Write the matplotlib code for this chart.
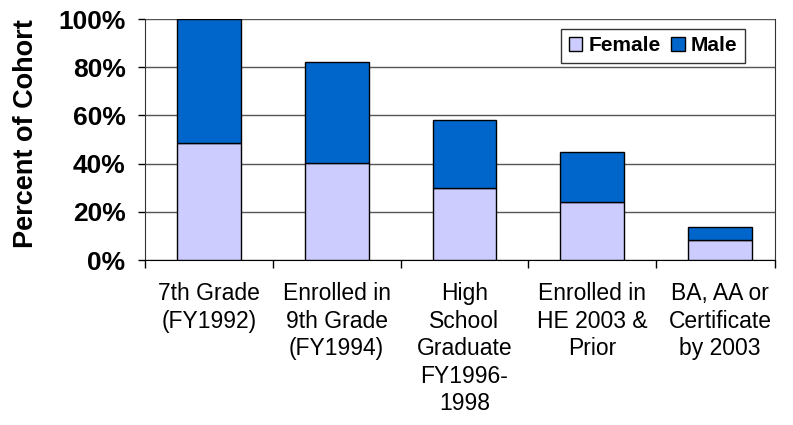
import matplotlib
matplotlib.use("Agg")
import matplotlib.pyplot as plt
import numpy as np
from matplotlib.ticker import FixedLocator, PercentFormatter

categories = ["7th Grade\n(FY1992)", "Enrolled in\n9th Grade\n(FY1994)",
              "High\nSchool\nGraduate\nFY1996-\n1998", "Enrolled in\nHE 2003 &\nPrior",
              "BA, AA or\nCertificate\nby 2003"]
female = [48.4, 40.4, 29.7, 23.9, 8.3]
male = [51.6, 41.9, 28.4, 21.0, 5.5]
series_names = ["Female", "Male"]
yticks = [0, 20, 40, 60, 80, 100]

plt.rcParams['font.family'] = ['Liberation Sans', 'DejaVu Sans']

fig = plt.figure(figsize=(7.93, 4.25), dpi=100)
ax = fig.add_axes([145/793, 1-260/425, (775-145)/793, 241/425])

x = np.arange(len(categories))
female_color = "#CCCCFF"
male_color = "#0066CC"
ax.bar(x, female, width=0.5, color=female_color, edgecolor="black", linewidth=1,
       label=series_names[0], zorder=3)
ax.bar(x, male, width=0.5, bottom=female, color=male_color, edgecolor="black",
       linewidth=1, label=series_names[1], zorder=3)

ax.set_ylim(0, 100)
ax.set_xlim(-0.5, 4.43)
ax.yaxis.set_major_locator(FixedLocator(yticks))
ax.yaxis.set_major_formatter(PercentFormatter(decimals=0))
ax.grid(axis='y', color='#555555', linewidth=1, zorder=0)

ax.xaxis.set_major_locator(FixedLocator([-0.5, 0.5, 1.5, 2.5, 3.5, 4.43]))
ax.xaxis.set_minor_locator(FixedLocator(x))
ax.set_xticklabels([""] * 6)
ax.set_xticklabels(categories, minor=True, fontsize=16.5, linespacing=1.25)
ax.tick_params(axis='x', which='major', length=6, width=1, color='black', direction='out')
ax.tick_params(axis='x', which='minor', length=0, pad=16)
ax.tick_params(axis='y', length=5, width=1, pad=9, labelsize=19)
for lab in ax.get_yticklabels():
    lab.set_fontweight('bold')

ax.spines['top'].set_visible(False)
ax.spines['right'].set_color('#333333')
ax.spines['left'].set_color('#333333')
ax.spines['bottom'].set_color('black')

ax.set_ylabel("Percent of Cohort", fontsize=19.5, fontweight='bold', va='center')
ax.yaxis.set_label_coords(-0.189, 0.523)

leg = ax.legend(ncol=2, loc='upper right', bbox_to_anchor=(0.952, 0.958),
                prop={'size': 15, 'weight': 'bold'}, frameon=True, fancybox=False,
                edgecolor='black', handlelength=0.65, handleheight=0.65,
                handletextpad=0.3, columnspacing=0.5, borderpad=0.35, borderaxespad=0)
leg.get_frame().set_linewidth(1)
leg.set_zorder(5)

fig.savefig("out.png", dpi=100, facecolor='white')
